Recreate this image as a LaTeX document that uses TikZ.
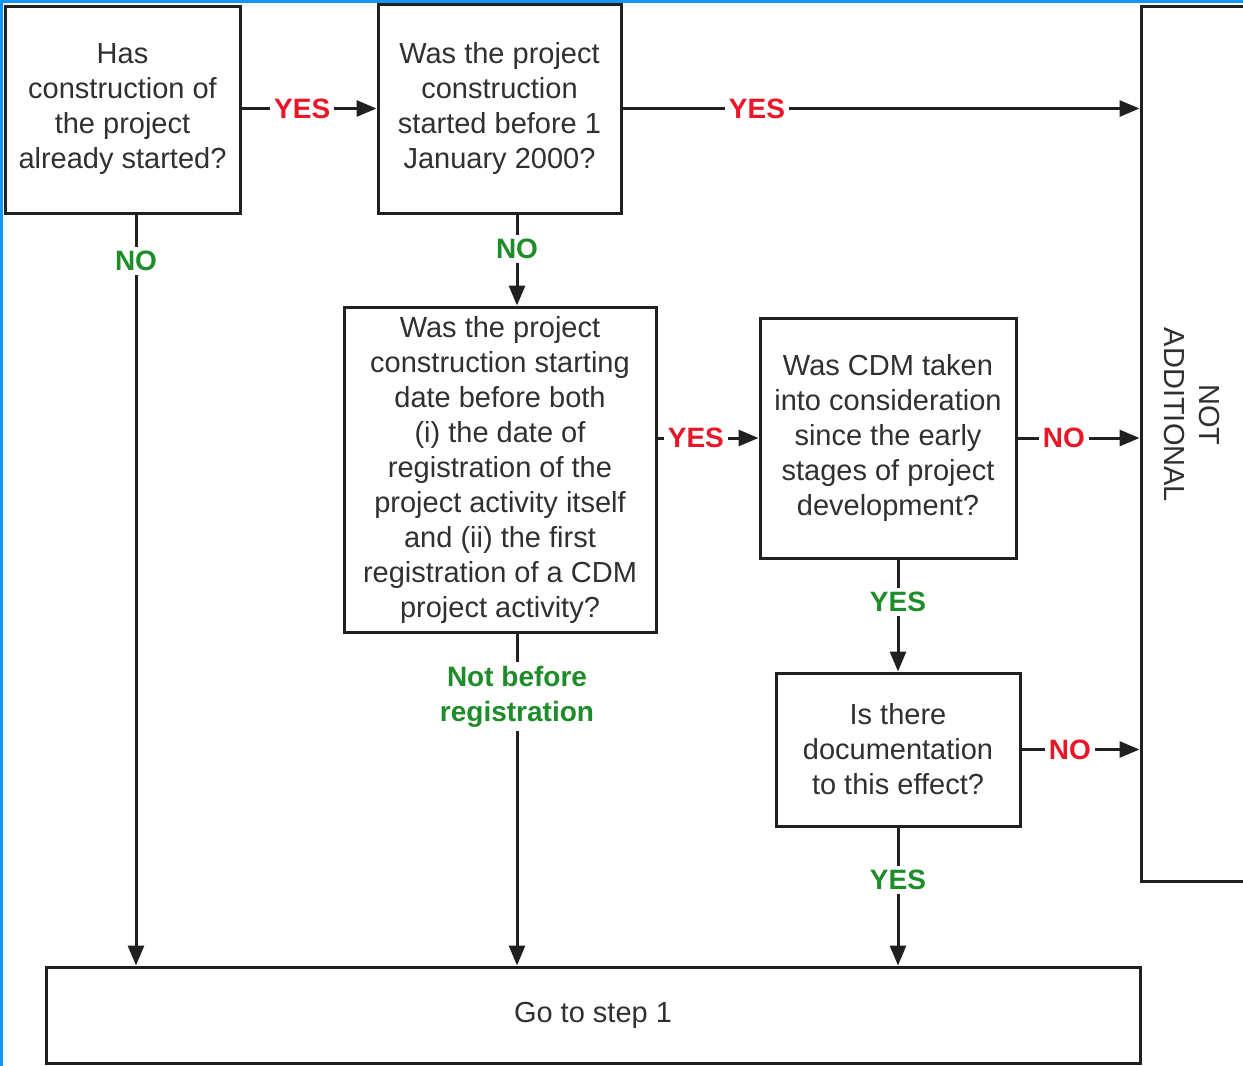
\documentclass[tikz,border=0pt]{standalone}
\usepackage{fontspec}
\setmainfont{Liberation Sans}
\usetikzlibrary{arrows.meta}
\definecolor{txt}{HTML}{303030}
\definecolor{lin}{HTML}{202020}
\definecolor{redlab}{RGB}{232,22,38}
\definecolor{greenlab}{RGB}{30,140,40}
\definecolor{frameblue}{RGB}{20,150,245}
\tikzset{
  qbox/.style={draw=lin, line width=3pt, fill=white, inner sep=0pt, align=center,
    text=txt, font=\fontsize{29}{35}\selectfont},
  arr/.style={draw=lin, line width=3pt, -{Triangle[length=20pt,width=16pt]}},
  lab/.style={font=\fontsize{28}{35}\selectfont\bfseries, fill=white, inner sep=4pt, align=center},
  yeslab/.style={lab, text=redlab},
  nolab/.style={lab, text=greenlab},
}
\begin{document}
\begin{tikzpicture}[x=1pt, y=-1pt]
\useasboundingbox (0,0) rectangle (1243,1066);
\fill[white] (0,0) rectangle (1243,1066);
\draw[frameblue, line width=3pt] (1.5,1066) -- (1.5,1.5) -- (1243,1.5);

\node[qbox, minimum width=235pt, minimum height=207pt] (A) at (122.5,109.5)
  {Has\\construction of\\the project\\already started?};
\node[qbox, minimum width=243pt, minimum height=209pt] (B) at (499.5,108.5)
  {Was the project\\construction\\started before 1\\January 2000?};
\node[qbox, minimum width=312pt, minimum height=325pt] (C) at (500,469.5)
  {Was the project\\construction starting\\date before both\\(i) the date of\\registration of the\\project activity itself\\and (ii) the first\\registration of a CDM\\project activity?};
\node[qbox, minimum width=256pt, minimum height=240pt] (D) at (888,438)
  {Was CDM taken\\into consideration\\since the early\\stages of project\\development?};
\node[qbox, minimum width=244pt, minimum height=153pt] (E) at (898,749.5)
  {Is there\\documentation\\to this effect?};
\node[qbox, minimum width=1094pt, minimum height=96pt] (F) at (593,1015)
  {Go to step 1};
\node[qbox, minimum width=159pt, minimum height=875pt] (G) at (1220.5,443.5) {};
\node[text=txt, font=\fontsize{29}{35}\selectfont, align=center, rotate=-90] (GT) at (1192,415)
  {NOT\\ADDITIONAL};

\coordinate (xa) at (136,0);
\coordinate (xc) at (517,0);

\draw[arr] (B.west -| A.east) -- node[yeslab, pos=0.45] {YES} (B.west);
\draw[arr] (B.east) -- node[yeslab, pos=0.26] {YES} (B.east -| G.west);
\draw[arr] (xa |- A.south) -- node[nolab, pos=0.062] {NO} (xa |- F.north);
\draw[arr] (xc |- B.south) -- node[nolab, pos=0.38] {NO} (xc |- C.north);
\draw[arr] (D.west -| C.east) -- node[yeslab, pos=0.38] {YES} (D.west);
\draw[arr] (D.east) -- node[yeslab, pos=0.38] {NO} (D.east -| G.west);
\draw[arr] (D.south -| E.north) -- node[nolab, pos=0.38] {YES} (E.north);
\draw[arr] (E.east) -- node[yeslab, pos=0.41] {NO} (E.east -| G.west);
\draw[arr] (xc |- C.south) -- node[nolab, pos=0.19] {Not before\\registration} (xc |- F.north);
\draw[arr] (E.south) -- node[nolab, pos=0.38] {YES} (E.south |- F.north);
\end{tikzpicture}
\end{document}
